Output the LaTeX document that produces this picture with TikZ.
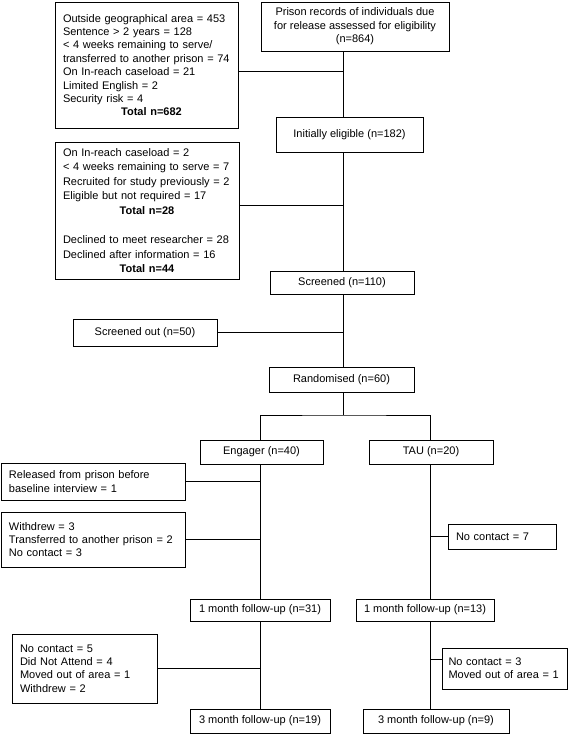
\documentclass[tikz,border=0pt]{standalone}
\usepackage{fontspec}
\setmainfont{Liberation Sans}
\begin{document}
\begin{tikzpicture}[x=1pt,y=-1pt,
  box/.style={draw, line width=0.9pt, inner sep=0pt, align=center,
    font=\fontsize{11}{13.4}\selectfont},
  lbox/.style={draw, line width=0.9pt, inner xsep=8pt, inner ysep=0pt, align=left,
    font=\fontsize{11}{13.4}\selectfont},
  conn/.style={line width=0.9pt}]
\useasboundingbox (0,0) rectangle (568,734);

% boxes
\node[box, minimum width=188, minimum height=49] (top) at (355,26.5)
  {Prison records of individuals due\\for release assessed for eligibility\\(n=864)};
\node[lbox, text width=167, minimum height=126] (excl1) at (146.5,65)
  {Outside geographical area = 453\\
   Sentence > 2 years = 128\\
   < 4 weeks remaining to serve/\\
   transferred to another prison = 74\\
   On In-reach caseload = 21\\
   Limited English = 2\\
   Security risk = 4\\
   \makebox[\hsize]{\hspace{10pt}\textbf{Total n=682}}};
\node[box, minimum width=147, minimum height=35] (elig) at (349.5,134.5)
  {Initially eligible (n=182)};
\node[lbox, text width=168, minimum height=137, font=\fontsize{11}{14.5}\selectfont] (excl2) at (147,210.5)
  {On In-reach caseload = 2\\
   < 4 weeks remaining to serve = 7\\
   Recruited for study previously = 2\\
   Eligible but not required = 17\\
   \makebox[\hsize]{\textbf{Total n=28}}\\[15pt]
   Declined to meet researcher = 28\\
   Declined after information = 16\\
   \makebox[\hsize]{\textbf{Total n=44}}};
\node[box, minimum width=144, minimum height=23] (screened) at (342,282.5)
  {Screened (n=110)};
\node[box, minimum width=144, minimum height=27] (scrout) at (145,332.5)
  {Screened out (n=50)};
\node[box, minimum width=145, minimum height=25] (random) at (341.5,379.5)
  {Randomised (n=60)};
\node[box, minimum width=123, minimum height=24] (engager) at (261.5,452)
  {Engager (n=40)};
\node[box, minimum width=124, minimum height=24] (tau) at (431,452)
  {TAU (n=20)};
\node[lbox, text width=168, minimum height=37] (released) at (93,481.5)
  {Released from prison before\\baseline interview = 1};
\node[lbox, text width=168, minimum height=55] (withdrew) at (93,539.5)
  {Withdrew = 3\\Transferred to another prison = 2\\No contact = 3};
\node[lbox, text width=92, minimum height=25] (nc7) at (502,536.5)
  {No contact = 7};
\node[box, minimum width=140, minimum height=22] (fu1e) at (260,610)
  {1 month follow-up (n=31)};
\node[box, minimum width=138, minimum height=22] (fu1t) at (425,610)
  {1 month follow-up (n=13)};
\node[lbox, text width=129, minimum height=69] (nc5) at (84.5,668.5)
  {No contact = 5\\Did Not Attend = 4\\Moved out of area = 1\\Withdrew = 2};
\node[lbox, inner xsep=6.5pt, text width=112, minimum height=41] (nc3) at (504.5,668.5)
  {No contact = 3\\Moved out of area = 1};
\node[box, minimum width=140, minimum height=24] (fu3e) at (260,721)
  {3 month follow-up (n=19)};
\node[box, minimum width=146, minimum height=24] (fu3t) at (436,721)
  {3 month follow-up (n=9)};

% junction coordinates
\coordinate (tr) at (343,0);
\coordinate (ex) at (260,0);
\coordinate (tx) at (430,0);
\coordinate (j1) at (343,71);
\coordinate (j2) at (343,205);
\coordinate (split) at (343,415);
\coordinate (c3) at (430,659);

% connectors
\draw[conn] (top.south -| tr) -- (elig.north -| tr);
\draw[conn] (excl1.east |- j1) -- (j1);
\draw[conn] (elig.south -| tr) -- (screened.north -| tr);
\draw[conn] (excl2.east |- j2) -- (j2);
\draw[conn] (screened.south -| tr) -- (random.north -| tr);
\draw[conn] (scrout.east) -- (scrout.east -| tr);
\draw[conn] (random.south -| tr) -- (split);
\draw[conn] (engager.north -| ex) |- (split) -| (tau.north -| tx);
\draw[conn] (engager.south -| ex) -- (fu1e.north -| ex);
\draw[conn] (released.east) -- (released.east -| ex);
\draw[conn] (withdrew.east) -- (withdrew.east -| ex);
\draw[conn] (tau.south -| tx) -- (fu1t.north -| tx);
\draw[conn] (nc7.west -| tx) -- (nc7.west);
\draw[conn] (fu1e.south -| ex) -- (fu3e.north -| ex);
\draw[conn] (nc5.east) -- (nc5.east -| ex);
\draw[conn] (fu1t.south -| tx) -- (fu3t.north -| tx);
\draw[conn] (c3) -- (c3 -| nc3.west);
\end{tikzpicture}
\end{document}
